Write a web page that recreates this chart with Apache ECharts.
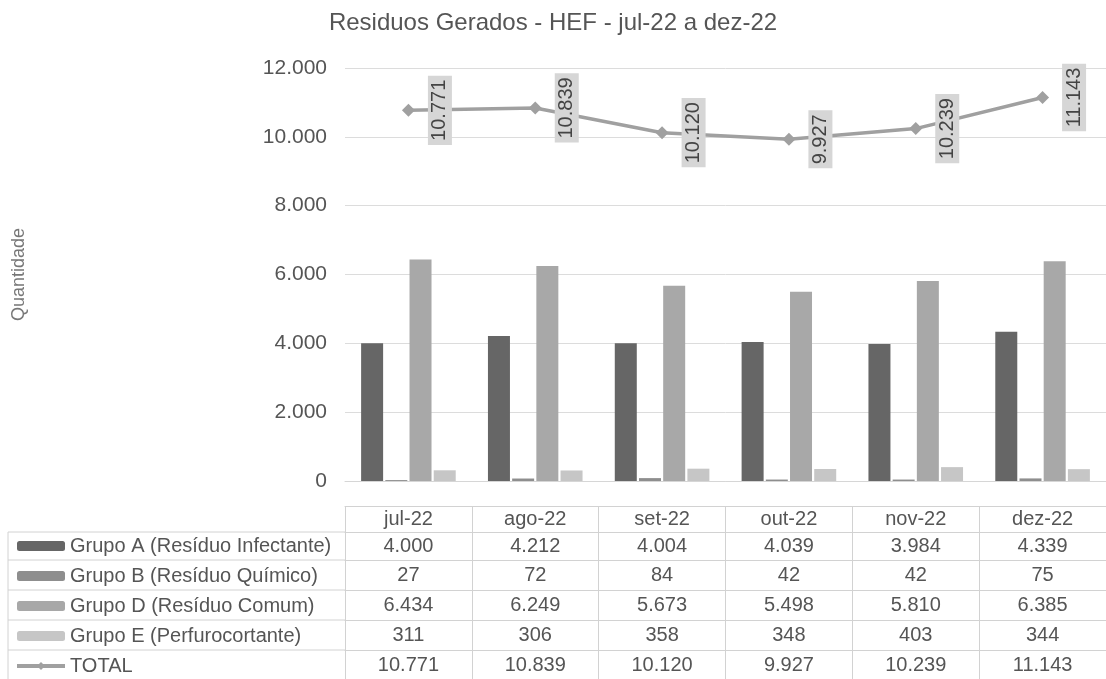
<!DOCTYPE html>
<html>
<head>
<meta charset="utf-8">
<script src="https://cdn.jsdelivr.net/npm/echarts@6/dist/echarts.min.js"></script>
<style>
html,body{margin:0;padding:0;background:#fff;}
#chart{width:1106px;height:679px;}
</style>
</head>
<body>
<div id="chart"></div>
<script>
const categories = ['jul-22', 'ago-22', 'set-22', 'out-22', 'nov-22', 'dez-22'];
const grupoA = [4000, 4212, 4004, 4039, 3984, 4339];
const grupoB = [27, 72, 84, 42, 42, 75];
const grupoD = [6434, 6249, 5673, 5498, 5810, 6385];
const grupoE = [311, 306, 358, 348, 403, 344];
const total = [10771, 10839, 10120, 9927, 10239, 11143];
const seriesNames = ['Grupo A (Resíduo Infectante)', 'Grupo B (Resíduo Químico)', 'Grupo D (Resíduo Comum)', 'Grupo E (Perfurocortante)', 'TOTAL'];
const yMin = 0, yMax = 12000, yInterval = 2000;

function fmt(v) { return String(v).replace(/\B(?=(\d{3})+(?!\d))/g, '.'); }

const FONT = 'Liberation Sans, Arial, sans-serif';
const colors = ['#666666', '#8e8e8e', '#a8a8a8', '#c6c6c6', '#a0a0a0'];

// layout of the data table below the plot
const gridLeft = 345, gridTop = 68, axisY = 481, W = 1106, H = 679;
const rowTops = [506, 532, 560, 590, 620, 650];   // header, A, B, D, E, TOTAL
const rowH = [26, 28, 30, 30, 30, 30];
const rowData = [null, grupoA, grupoB, grupoD, grupoE, total];
const border = '#d2d2d2';

const xAxes = [{
  type: 'category', data: categories, gridIndex: 0, position: 'bottom',
  axisLine: { show: true, lineStyle: { color: '#d6d6d6' } },
  axisTick: { show: false }, axisLabel: { show: false }
}];
rowTops.forEach((top, i) => {
  const vals = rowData[i];
  xAxes.push({
    type: 'category', data: categories, gridIndex: 0, position: 'bottom',
    offset: top - axisY,
    axisLine: { show: true, lineStyle: { color: border } },
    axisTick: { show: true, length: rowH[i], interval: 0, lineStyle: { color: border } },
    axisLabel: {
      show: true, interval: 0, fontSize: 20, lineHeight: 20, color: '#555', fontFamily: FONT,
      margin: Math.round(rowH[i] / 2 - 10),
      formatter: (v, idx) => vals ? fmt(vals[idx]) : v
    }
  });
});

const graphics = [];
for (let i = 1; i < rowTops.length; i++) {
  graphics.push({ type: 'line', shape: { x1: 8, y1: rowTops[i], x2: gridLeft, y2: rowTops[i] }, style: { stroke: border, lineWidth: 1 } });
}
graphics.push({ type: 'line', shape: { x1: 8, y1: rowTops[1], x2: 8, y2: H }, style: { stroke: border, lineWidth: 1 } });

const barSeries = [grupoA, grupoB, grupoD, grupoE].map((d, i) => ({
  name: seriesNames[i], type: 'bar', data: d, xAxisIndex: 0,
  barWidth: 22, barGap: '10%',
  itemStyle: { color: colors[i] }
}));

const legendData = seriesNames.map((n, i) => i === 4
  ? { name: n, lineStyle: { width: 4, color: colors[4] }, itemStyle: { color: colors[4] } }
  : { name: n });

const option = {
  backgroundColor: '#fff',
  animation: false,
  title: {
    text: 'Residuos Gerados - HEF - jul-22 a dez-22',
    left: 'center', top: 6,
    textStyle: { fontSize: 24, fontWeight: 'normal', color: '#555', fontFamily: FONT }
  },
  legend: {
    orient: 'vertical', left: 15, top: 536, itemGap: 10, padding: 0, height: 150,
    itemWidth: 48, itemHeight: 10, selectedMode: false,
    data: legendData,
    textStyle: { fontSize: 20, lineHeight: 20, color: '#555', fontFamily: FONT }
  },
  grid: { left: gridLeft, right: 0, top: gridTop, bottom: H - axisY, containLabel: false },
  xAxis: xAxes,
  yAxis: {
    type: 'value', min: yMin, max: yMax, interval: yInterval,
    name: 'Quantidade', nameLocation: 'middle', nameGap: 317,
    nameTextStyle: { fontSize: 18, color: '#777', fontFamily: FONT },
    axisLine: { show: false }, axisTick: { show: false },
    axisLabel: { fontSize: 21, color: '#555', margin: 18, fontFamily: FONT, formatter: v => fmt(v) },
    splitLine: { lineStyle: { color: '#dcdcdc', width: 1 } }
  },
  graphic: graphics,
  series: barSeries.concat([{
    name: seriesNames[4], type: 'line', data: total, xAxisIndex: 0, z: 5,
    symbol: 'diamond', symbolSize: 13,
    lineStyle: { color: colors[4], width: 3.5 },
    itemStyle: { color: colors[4] },
    label: {
      show: true, position: 'right', distance: 25, rotate: 90,
      align: 'center', verticalAlign: 'middle',
      fontSize: 20, color: '#444', fontFamily: FONT,
      backgroundColor: '#d6d6d6', padding: [2, 4],
      formatter: p => fmt(p.value)
    }
  }])
};

const chart = echarts.init(document.getElementById('chart'), null, { renderer: 'canvas' });
chart.setOption(option);
</script>
</body>
</html>
